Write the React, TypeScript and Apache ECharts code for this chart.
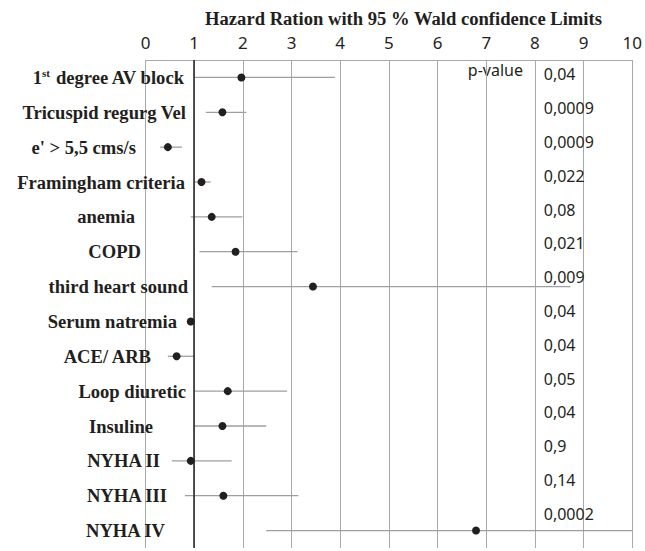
import React, { useEffect, useRef } from 'react';
import * as echarts from 'echarts';

// ---- data ----
const categories = [
  '1st degree AV block',
  'Tricuspid regurg Vel',
  "e' > 5,5 cms/s",
  'Framingham criteria',
  'anemia',
  'COPD',
  'third heart sound',
  'Serum natremia',
  'ACE/ ARB',
  'Loop diuretic',
  'Insuline',
  'NYHA II',
  'NYHA III',
  'NYHA IV',
];
const hazardRatio = [1.97, 1.58, 0.46, 1.15, 1.36, 1.85, 3.44, 0.93, 0.64, 1.69, 1.58, 0.93, 1.6, 6.79];
const lowerLimit = [1.0, 1.24, 0.3, 1.0, 0.93, 1.11, 1.36, 0.92, 0.46, 1.0, 1.0, 0.54, 0.81, 2.48];
const upperLimit = [3.89, 2.07, 0.75, 1.34, 1.99, 3.12, 8.73, 0.94, 1.0, 2.91, 2.48, 1.77, 3.14, 10];
const pValues = ['0,04', '0,0009', '0,0009', '0,022', '0,08', '0,021', '0,009', '0,04', '0,04', '0,05', '0,04', '0,9', '0,14', '0,0002'];
const xTickLabels = ['0', '1', '2', '3', '4', '5', '6', '7', '8', '9', '10'];
const referenceHR = 1;
const pValueColumnX = 8.18;
const chartTitle = 'Hazard Ration with 95 % Wald confidence Limits';
const pValueHeader = 'p-value';

// ---- layout (label right-edge shifts, px) ----
const labelShift = [4, 2, 52, 3, 53, 47, 0, 11, 37, 2, 35, 28, 21, 23];

const INK = '#231f20';
const GRID = '#a7a9ac';
const SERIF = '"Liberation Serif", "Times New Roman", serif';
const SANS = '"Noto Sans", "Open Sans", sans-serif';
const LABEL_SIZE = 18.6;

export default function App() {
  const ref = useRef<HTMLDivElement>(null);

  useEffect(() => {
    if (!ref.current) return;
    const chart = echarts.init(ref.current, undefined, { renderer: 'svg' });

    const rich: Record<string, any> = {
      b: { fontFamily: SERIF, fontWeight: 'bold', fontSize: LABEL_SIZE, color: INK },
      sup: { fontFamily: SERIF, fontWeight: 'bold', fontSize: 11, color: INK, verticalAlign: 'top' },
    };
    categories.forEach((_, i) => {
      rich['e' + i] = {
        fontFamily: SERIF,
        fontWeight: 'bold',
        fontSize: LABEL_SIZE,
        color: INK,
        padding: [0, labelShift[i], 0, 0],
      };
    });

    const option: any = {
      animation: false,
      graphic: [
        {
          type: 'text',
          x: 403.5,
          y: 18,
          silent: true,
          style: {
            text: chartTitle,
            font: `bold 18.6px ${SERIF}`,
            fill: INK,
            align: 'center',
            verticalAlign: 'middle',
          },
        },
        {
          type: 'text',
          x: 523,
          y: 70,
          silent: true,
          style: {
            text: pValueHeader,
            font: `16px ${SANS}`,
            fill: INK,
            align: 'right',
            verticalAlign: 'middle',
          },
        },
      ],
      grid: { left: 145.5, right: 10, top: 60, bottom: 3, containLabel: false },
      xAxis: {
        type: 'value',
        position: 'top',
        min: 0,
        max: 10,
        interval: 1,
        axisLine: { show: true, lineStyle: { color: GRID, width: 1 } },
        axisTick: { show: true, inside: true, length: 5, lineStyle: { color: GRID } },
        axisLabel: {
          margin: 9,
          fontFamily: SANS,
          fontSize: 17,
          color: INK,
          formatter: (v: number) => xTickLabels[Math.round(v)] ?? '',
        },
        splitLine: { show: true, lineStyle: { color: GRID, width: 1 } },
      },
      yAxis: {
        type: 'category',
        data: categories,
        inverse: true,
        offset: -48.5,
        axisLine: { show: false },
        axisTick: { show: false },
        splitLine: { show: false },
        axisLabel: {
          interval: 0,
          margin: 6,
          formatter: (v: string, i: number) => {
            if (i === 0) {
              return `{b|1}{sup|st}{e0| degree AV block}`;
            }
            return `{e${i}|${v}}`;
          },
          rich,
        },
      },
      series: [
        {
          type: 'custom',
          silent: true,
          data: categories.map((_, i) => [lowerLimit[i], upperLimit[i], i]),
          encode: { x: [0, 1], y: 2 },
          renderItem: (params: any, api: any) => {
            const lo = api.coord([api.value(0), api.value(2)]);
            const hi = api.coord([api.value(1), api.value(2)]);
            return {
              type: 'line',
              shape: { x1: lo[0], y1: lo[1], x2: hi[0], y2: hi[1] },
              style: { stroke: '#9d9fa2', lineWidth: 1.3 },
            };
          },
          z: 2,
        },
        {
          type: 'scatter',
          silent: true,
          data: hazardRatio.map((v, i) => [v, i]),
          symbol: 'circle',
          symbolSize: 8,
          itemStyle: { color: INK, opacity: 1 },
          z: 4,
          markLine: {
            silent: true,
            symbol: 'none',
            label: { show: false },
            lineStyle: { color: INK, width: 1.5, type: 'solid', opacity: 1 },
            data: [{ xAxis: referenceHR }],
          },
        },
        {
          type: 'scatter',
          silent: true,
          data: pValues.map((_, i) => [pValueColumnX, i]),
          symbolSize: 0.1,
          itemStyle: { color: 'transparent', opacity: 1 },
          label: {
            show: true,
            position: 'right',
            distance: 0,
            fontFamily: SANS,
            fontSize: 16,
            color: INK,
            opacity: 1,
            formatter: (p: any) => pValues[p.dataIndex],
          },
          labelLayout: (p: any) => ({ dy: -3 - 1.07 * p.dataIndex }),
          z: 5,
        },
      ],
    };

    chart.setOption(option);
    return () => chart.dispose();
  }, []);

  return (
    <div
      ref={ref}
      style={{ position: 'fixed', left: 0, top: 0, width: 645, height: 551, background: '#fff' }}
    />
  );
}
